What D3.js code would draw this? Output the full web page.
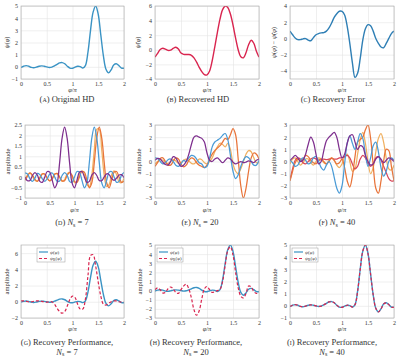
<!DOCTYPE html>
<html>
<head>
<meta charset="utf-8">
<script src="https://cdn.jsdelivr.net/npm/d3@7"></script>
<style>
body { margin: 0; background: #fff; }
text { font-family: "Liberation Serif", "DejaVu Serif", serif; fill: #333; }
</style>
</head>
<body>
<svg id="chart" width="400" height="358"></svg>
<script>
// phi/pi grid, step 0.05
var phi = d3.range(41).map(function(i) { return i / 20; });
var xTicks = [0, 0.5, 1, 1.5, 2];

// (a) original HD
var psi = [-0.05,0.05,0.1,0.05,-0.05,-0.08,-0.02,0.05,0.08,0.05,0,-0.05,-0.02,0.08,0.2,0.32,0.35,0.25,0.05,-0.1,
  -0.12,-0.02,0.05,0.02,-0.1,0.1,1.2,3.0,4.5,5.0,4.3,2.6,0.9,-0.2,-0.5,-0.25,0.15,0.25,0.1,-0.1,-0.12];
// (b) recovered HD
var psiHat = [-1.0,-0.5,0.05,0.22,0.1,-0.08,-0.05,0.2,0.35,0.1,-0.45,-0.62,-0.65,-0.65,-0.75,-1.1,-1.7,-2.4,-3.0,-3.4,
  -3.45,-2.9,-1.5,0.4,2.4,4.2,5.5,6.0,5.8,4.9,3.4,1.6,0.0,-0.95,-1.1,-0.4,0.7,1.3,0.9,-0.2,-1.0];
// (c) recovery error
var psiErr = [0.9,0.45,0.05,-0.15,-0.15,-0.05,-0.02,-0.2,-0.28,0.1,0.45,0.6,0.68,0.72,0.9,1.3,1.9,2.6,3.05,3.35,
  3.35,2.9,1.5,-0.6,-3.0,-4.8,-4.3,-2.5,-0.2,1.2,1.7,1.55,0.9,0.0,-0.6,-1.05,-1.15,-0.6,0.0,0.6,0.9];

// (d) basis functions, Ns = 7
var d7Purple = [0.01,-0.17,-0.16,0.08,0.22,0.1,-0.2,-0.25,0.01,0.27,0.24,-0.15,-0.51,-0.27,0.71,1.88,2.4,1.88,0.71,-0.27,
  -0.51,-0.15,0.24,0.27,0.01,-0.25,-0.2,0.1,0.22,0.08,-0.16,-0.17,0.01,0.16,0.12,-0.07,-0.15,-0.05,0.1,0.12,-0.02];
var d7Blue = [0.2,0.15,-0.08,-0.2,-0.05,0.18,0.12,-0.08,-0.2,-0.07,0.15,0.2,0.01,-0.2,-0.18,0.08,0.22,0.1,-0.2,-0.25,
  0.01,0.27,0.24,-0.15,-0.51,-0.27,0.71,1.88,2.4,1.88,0.71,-0.27,-0.51,-0.15,0.24,0.27,0.01,-0.25,-0.2,0.1,0.22];
var d7Orange = [-0.15,0.05,0.2,0.1,-0.1,-0.2,-0.05,0.15,0.15,-0.05,-0.18,-0.08,0.14,0.18,0.01,-0.18,-0.17,0.08,0.22,0.1,
  -0.2,-0.25,0.01,0.27,0.24,-0.15,-0.51,-0.27,0.71,1.88,2.4,1.88,0.71,-0.27,-0.51,-0.15,0.24,0.27,0.01,-0.25,-0.2];
var d7Yellow = [-0.1,0.1,0.2,0.05,-0.15,-0.18,0.0,0.17,0.12,-0.08,-0.18,-0.05,0.16,0.15,-0.03,-0.2,-0.12,0.15,0.24,0.02,
  -0.27,-0.22,0.12,0.3,0.12,-0.35,-0.45,0.1,1.3,2.3,2.3,1.3,0.1,-0.45,-0.35,0.12,0.3,0.12,-0.22,-0.27,-0.05];

// (e) Ns = 20
var d20Purple = [0.1,0.25,0.2,-0.05,-0.25,-0.3,0.0,0.4,0.3,-0.1,-0.4,-0.3,0.0,0.6,1.4,2.0,2.1,2.0,1.9,1.6,
  0.7,0.1,0.0,0.2,0.3,0.1,-0.1,0.1,0.3,0.2,-0.05,-0.2,-0.1,0.0,-0.1,-0.05,0.05,0.0,-0.1,0.1,0.2];
var d20Blue = [0.3,0.25,0.0,-0.2,-0.1,0.15,0.2,0.0,-0.3,-0.4,-0.2,0.1,0.0,0.3,0.5,0.45,0.2,-0.1,-0.2,-0.5,
  -0.4,0.3,1.2,1.6,1.75,1.9,2.15,2.3,1.8,0.5,-0.8,-1.4,-1.1,-0.4,0.1,0.4,0.3,0.0,-0.3,-0.3,0.1];
var d20Orange = [-0.4,-0.1,0.25,0.3,0.0,-0.3,-0.3,0.0,0.3,0.2,-0.2,-0.45,-0.3,0.1,0.3,0.2,-0.1,-0.3,-0.4,-0.5,
  -0.3,0.2,0.6,0.9,1.1,1.3,1.6,1.9,1.8,2.2,2.7,2.2,0.2,-2.0,-3.0,-2.2,-0.8,0.3,0.7,0.6,0.2];
var d20Yellow = [-0.2,0.0,0.15,0.1,-0.1,-0.15,0.0,0.15,0.05,-0.15,-0.1,0.1,0.2,0.05,-0.15,-0.2,0.0,0.2,0.15,-0.1,
  -0.2,0.0,0.3,0.8,1.2,1.5,1.4,1.2,1.5,1.0,-0.2,-0.8,-1.0,-0.6,0.0,0.6,0.9,0.8,0.3,-0.1,-0.1];

// (f) Ns = 40
var d40Purple = [0.1,0.3,0.5,0.3,0.0,0.1,0.6,1.4,2.0,1.6,0.6,-0.2,0.0,0.9,1.7,2.0,2.2,2.4,2.0,1.0,
  0.3,0.6,1.5,2.1,2.2,1.6,1.0,1.3,1.2,0.5,0.0,-0.3,-0.2,0.2,0.4,0.2,-0.1,0.1,0.3,0.2,0.0];
var d40Blue = [0.1,-0.1,-0.4,-0.3,0.1,0.3,0.1,-0.2,-0.1,0.3,0.4,0.0,-0.5,-0.7,-0.3,0.0,-0.4,-1.3,-2.2,-2.6,
  -2.0,-0.2,1.5,2.1,1.5,1.0,1.6,2.3,1.9,0.6,-0.4,0.3,1.3,1.6,0.8,-0.5,-1.2,-0.8,0.0,0.3,0.1];
var d40Orange = [-1.6,-0.8,-0.1,0.2,0.1,0.2,0.5,0.4,0.1,-0.1,-0.2,0.1,0.2,0.0,-0.2,0.0,0.3,0.1,-0.2,-0.1,
  0.2,-0.5,-1.6,-2.1,-1.2,0.4,1.6,1.8,2.0,2.6,3.0,1.9,-0.3,-2.2,-2.6,-1.6,0.0,1.0,0.9,-0.4,-1.6];
var d40Yellow = [-0.2,0.2,0.3,0.0,-0.3,-0.1,0.2,0.2,-0.1,-0.3,0.0,0.3,0.2,-0.1,-0.2,0.1,0.3,0.1,-0.3,-0.5,
  -0.2,0.4,0.6,0.0,-0.8,-0.6,0.6,1.8,2.4,1.5,0.0,-1.0,-0.5,0.8,1.9,2.3,1.6,0.3,-0.6,-0.7,-0.3];
var d40Red = [-1.5,-0.6,0.1,0.3,0.2,-0.1,-0.2,0.0,0.2,0.3,0.2,0.1,0.15,0.2,0.15,0.2,0.25,0.2,0.2,0.3,
  0.3,0.4,0.5,0.3,-0.2,-0.6,-0.4,0.2,0.5,0.3,-0.2,-0.4,-0.2,0.3,0.4,0.1,-0.4,-0.9,-1.4,-1.6,-1.6];

// (g)-(i) recovered with Ns samples
var psiR7 = [0.1,0.1,0.05,0.0,0.0,0.05,0.1,0.1,0.05,0.0,-0.05,0.0,0.0,-0.3,-0.8,-1.2,-1.4,-1.2,-0.5,0.3,
  0.7,0.5,-0.3,-0.9,-0.9,0.3,3.2,5.7,5.8,4.4,2.4,0.7,-0.3,-0.4,-0.2,0.0,0.1,0.1,0.0,-0.05,0.0];
var psiR20 = [0.1,0.3,0.1,-0.25,-0.2,0.2,0.4,0.2,-0.2,-0.3,0.1,0.5,0.7,0.2,-0.8,-2.1,-2.7,-2.2,-0.9,0.2,
  0.45,0.1,-0.2,-0.1,0.0,0.15,1.0,2.8,4.4,4.8,3.9,2.0,0.3,-0.6,-0.8,-0.3,0.5,0.4,-0.1,-0.3,-0.3];
var psiR40 = [-0.05,0.05,0.1,0.05,-0.05,-0.08,-0.02,0.05,0.08,0.05,0,-0.05,-0.02,0.08,0.2,0.32,0.35,0.25,0.05,-0.1,
  -0.12,-0.02,0.05,0.02,-0.1,0.1,1.2,3.0,4.5,5.0,4.3,2.6,0.9,-0.2,-0.5,-0.25,0.15,0.25,0.1,-0.1,-0.12];

var BLUE = "#3a93c4", RED = "#d9254f", PURPLE = "#7e2f8e", LBLUE = "#4a9bd6",
    ORANGE = "#e8743a", YELLOW = "#f0b060", REDL = "#d7465a";

var svg = d3.select("#chart");

function panel(p) {
  var g = svg.append("g").attr("transform", "translate(" + p.x0 + "," + p.y0 + ")");
  var w = p.x1 - p.x0, h = p.y1 - p.y0;
  var x = d3.scaleLinear().domain([0, 2]).range([0, w]);
  var y = d3.scaleLinear().domain(p.yDomain).range([h, 0]);

  // grid + tick labels
  var ax = g.append("g").attr("transform", "translate(0," + h + ")")
    .call(d3.axisBottom(x).tickValues(xTicks).tickSize(-h).tickPadding(3).tickFormat(d3.format("")));
  var ay = g.append("g")
    .call(d3.axisLeft(y).tickValues(p.yTicks).tickSize(-w).tickPadding(3).tickFormat(d3.format("")));
  [ax, ay].forEach(function(a) {
    a.select(".domain").remove();
    a.selectAll("line").attr("stroke", "#e4e4e4").attr("stroke-width", 0.6);
    a.selectAll("text").style("font-size", "6px").attr("fill", "#444")
      .style("font-family", '"Liberation Serif", serif');
  });

  var line = d3.line().x(function(d, i) { return x(phi[i]); })
    .y(function(d) { return y(d); }).curve(d3.curveCatmullRom.alpha(0.5));

  g.append("defs").append("clipPath").attr("id", "clip" + p.id)
    .append("rect").attr("width", w).attr("height", h);
  var plot = g.append("g").attr("clip-path", "url(#clip" + p.id + ")");
  p.series.forEach(function(s) {
    plot.append("path")
      .attr("d", line(s.values))
      .attr("fill", "none")
      .attr("stroke", s.color)
      .attr("stroke-width", s.width || 1.25)
      .attr("stroke-dasharray", s.dash || null);
  });

  g.append("rect").attr("width", w).attr("height", h)
    .attr("fill", "none").attr("stroke", "#a8a8a8").attr("stroke-width", 0.6);

  // axis labels
  g.append("text").attr("x", w / 2).attr("y", p.xlabY - p.y0)
    .attr("text-anchor", "middle").style("font-size", "6.5px")
    .html('<tspan font-style="italic">\u03C6</tspan>/<tspan font-style="italic">\u03C0</tspan>');
  g.append("text").attr("transform", "translate(" + (p.ylabX - p.x0) + "," + (h / 2) + ") rotate(-90)")
    .attr("text-anchor", "middle").style("font-size", "6.5px").html(p.ylab);

  // legend
  if (p.legend) {
    var lg = g.append("g").attr("transform", "translate(" + p.legend.x + "," + p.legend.y + ")");
    lg.append("rect").attr("width", p.legend.w).attr("height", 14)
      .attr("fill", "#fff").attr("stroke", "#9a9a9a").attr("stroke-width", 0.5);
    var items = [
      { color: p.series[0].color, dash: null, label: '<tspan font-style="italic">\u03C8</tspan>(<tspan font-style="italic">\u03C6</tspan>)' },
      { color: p.series[1].color, dash: p.series[1].dash, label: '<tspan font-style="italic">\u03C8</tspan><tspan font-size="3.5px" dy="1">R</tspan><tspan dy="-1">(</tspan><tspan font-style="italic">\u03C6</tspan>)' }
    ];
    items.forEach(function(it, i) {
      lg.append("line").attr("x1", 2).attr("x2", 11).attr("y1", 4 + i * 6.5).attr("y2", 4 + i * 6.5)
        .attr("stroke", it.color).attr("stroke-width", 1.2).attr("stroke-dasharray", it.dash);
      lg.append("text").attr("x", 13).attr("y", 5.8 + i * 6.5).style("font-size", "5px").html(it.label);
    });
  }

  // caption
  p.caption.forEach(function(c, i) {
    svg.append("text").attr("x", p.capX).attr("y", p.capY + i * 9.5)
      .attr("text-anchor", "middle").style("font-size", "8.5px").attr("fill", "#111").html(c);
  });
}

function cap(letter, rest) {
  return '<tspan style="font-variant: small-caps">(' + letter + ')</tspan> ' + rest;
}
var NS = function(n) {
  return '<tspan font-style="italic">N</tspan><tspan font-size="6px" dy="1.5">s</tspan><tspan dy="-1.5"> = ' + n + '</tspan>';
};
var AMP = "amplitude";
var PSI = '<tspan font-style="italic">\u03C8</tspan>(<tspan font-style="italic">\u03C6</tspan>)';
var PSIHAT = '<tspan font-style="italic">\u03C8\u0302</tspan>(<tspan font-style="italic">\u03C6</tspan>)';

var row1 = { y0: 6, y1: 79, xlabY: 92, capY: 102 };
var row2 = { y0: 125, y1: 198, xlabY: 212, capY: 225 };
var row3 = { y0: 245, y1: 318, xlabY: 331, capY: 345 };

var panels = [
  { id: "a", x0: 21, x1: 124, row: row1, yDomain: [-1, 5], yTicks: [-1,0,1,2,3,4,5], ylabX: 9, ylab: PSI,
    series: [{ values: psi, color: BLUE, width: 1.4 }], capX: 67, caption: [cap("a", "Original HD")] },
  { id: "b", x0: 155, x1: 259, row: row1, yDomain: [-4, 6], yTicks: [-4,-2,0,2,4,6], ylabX: 140, ylab: PSIHAT,
    series: [{ values: psiHat, color: RED, width: 1.4 }], capX: 198, caption: [cap("b", "Recovered HD")] },
  { id: "c", x0: 290, x1: 394, row: row1, yDomain: [-5, 4], yTicks: [-4,-2,0,2,4], ylabX: 276,
    ylab: PSI + ' \u2212 ' + PSIHAT,
    series: [{ values: psiErr, color: "#2f7fb5", width: 1.4 }], capX: 333, caption: [cap("c", "Recovery Error")] },
  { id: "d", x0: 25, x1: 124, row: row2, yDomain: [-1, 2.5], yTicks: [-1,-0.5,0,0.5,1,1.5,2,2.5], ylabX: 10, ylab: AMP,
    series: [{ values: d7Yellow, color: YELLOW }, { values: d7Orange, color: ORANGE },
             { values: d7Blue, color: LBLUE }, { values: d7Purple, color: PURPLE }],
    capX: 72, caption: [cap("d", NS(7))] },
  { id: "e", x0: 155, x1: 259, row: row2, yDomain: [-3, 3], yTicks: [-3,-2,-1,0,1,2,3], ylabX: 141, ylab: AMP,
    series: [{ values: d20Yellow, color: YELLOW }, { values: d20Orange, color: ORANGE },
             { values: d20Blue, color: LBLUE }, { values: d20Purple, color: PURPLE }],
    capX: 200, caption: [cap("e", NS(20))] },
  { id: "f", x0: 290, x1: 394, row: row2, yDomain: [-3, 3], yTicks: [-3,-2,-1,0,1,2,3], ylabX: 276, ylab: AMP,
    series: [{ values: d40Yellow, color: YELLOW }, { values: d40Red, color: REDL }, { values: d40Orange, color: ORANGE },
             { values: d40Blue, color: LBLUE }, { values: d40Purple, color: PURPLE }],
    capX: 337, caption: [cap("f", NS(40))] },
  { id: "g", x0: 21, x1: 124, row: row3, yDomain: [-2, 7], yTicks: [-2,0,2,4,6], ylabX: 9, ylab: AMP,
    series: [{ values: psi, color: BLUE, width: 1.4 }, { values: psiR7, color: RED, width: 1.2, dash: "3,2" }],
    legend: { x: 16, y: 3, w: 28 }, capX: 67, caption: [cap("g", "Recovery Performance,"), NS(7)] },
  { id: "h", x0: 155, x1: 259, row: row3, yDomain: [-3, 5], yTicks: [-3,-2,-1,0,1,2,3,4,5], ylabX: 142, ylab: AMP,
    series: [{ values: psi, color: BLUE, width: 1.4 }, { values: psiR20, color: RED, width: 1.2, dash: "3,2" }],
    legend: { x: 2, y: 3, w: 26 }, capX: 196, caption: [cap("h", "Recovery Performance,"), NS(20)] },
  { id: "i", x0: 290, x1: 394, row: row3, yDomain: [-1, 5], yTicks: [-1,0,1,2,3,4,5], ylabX: 277, ylab: AMP,
    series: [{ values: psi, color: BLUE, width: 1.4 }, { values: psiR40, color: RED, width: 1.2, dash: "3,2" }],
    legend: { x: 2, y: 3, w: 26 }, capX: 332, caption: [cap("i", "Recovery Performance,"), NS(40)] }
];

panels.forEach(function(p) {
  p.y0 = p.row.y0; p.y1 = p.row.y1; p.xlabY = p.row.xlabY; p.capY = p.row.capY;
  panel(p);
});
</script>
</body>
</html>
